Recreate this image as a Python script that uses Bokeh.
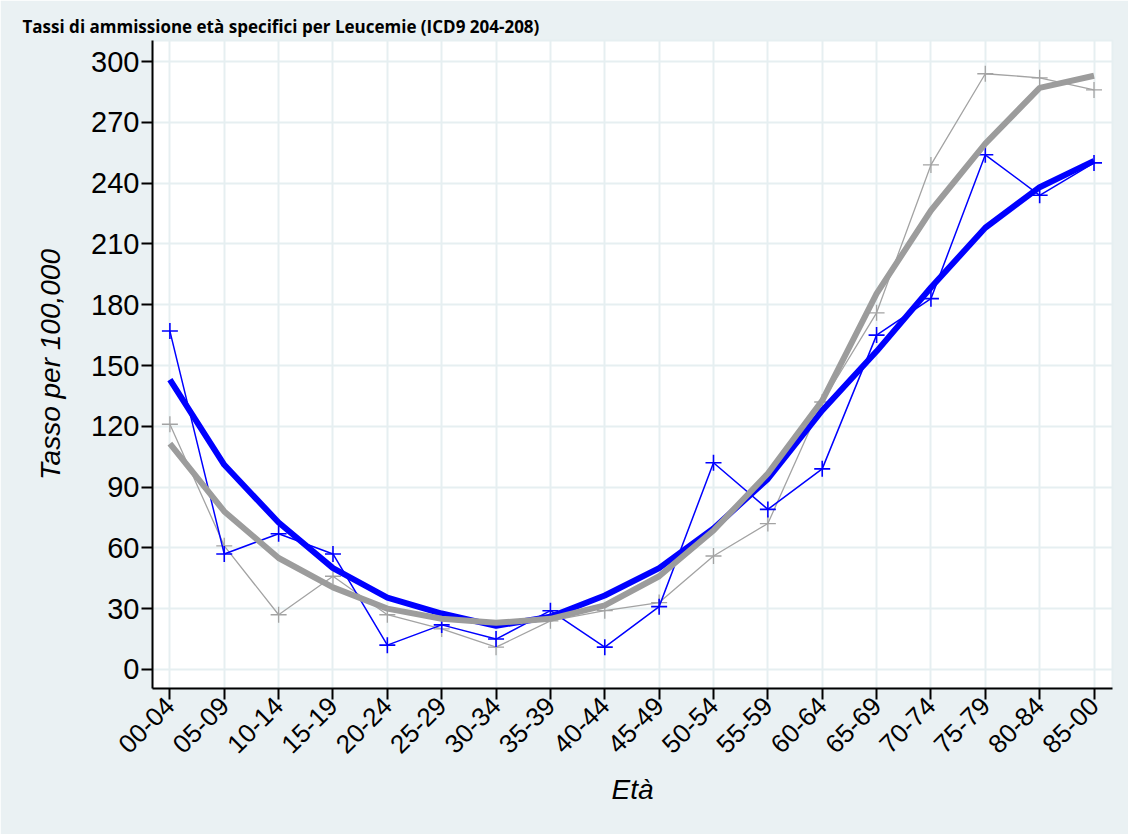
from bokeh.plotting import figure
from bokeh.models import FixedTicker, Range1d, ColumnDataSource
from bokeh.embed import file_html
from bokeh.resources import INLINE

# ---- data ----
age_labels = ["00-04", "05-09", "10-14", "15-19", "20-24", "25-29", "30-34", "35-39",
              "40-44", "45-49", "50-54", "55-59", "60-64", "65-69", "70-74", "75-79",
              "80-84", "85-00"]
blue_raw = [167, 57, 67, 57, 12, 22, 15, 29, 11, 31, 102, 79, 99, 165, 183, 254, 234, 250]
gray_raw = [121, 61, 27, 46, 27, 20, 11, 24, 29, 33, 56, 72, 132, 176, 249, 294, 292, 286]
blue_smooth = [143, 101, 72.5, 50, 35.5, 27.6, 21.5, 26, 36.5, 50, 69.6, 94, 127.8, 157,
               188.5, 218, 238, 251]
gray_smooth = [111.5, 78, 55, 40.5, 30, 25, 23, 25, 31.6, 46, 68.6, 96.7, 132.7, 185.5,
               226.5, 259.5, 287, 293]
y_ticks = [0, 30, 60, 90, 120, 150, 180, 210, 240, 270, 300]
title_text = "Tassi di ammissione età specifici per Leucemie (ICD9 204-208)"

xs = list(range(len(age_labels)))
src = ColumnDataSource(dict(x=xs, blue_raw=blue_raw, gray_raw=gray_raw,
                            blue_smooth=blue_smooth, gray_smooth=gray_smooth))

BG = "#EAF1F3"
GRID = "#E6EFF1"

p = figure(width=1128, height=834, output_backend="svg", toolbar_location=None,
           x_range=Range1d(-0.32, 17.34), y_range=Range1d(-9.4, 310.4),
           min_border_left=152, min_border_right=16, min_border_top=40,
           min_border_bottom=146, frame_width=960, frame_height=648,
           title=title_text)

p.background_fill_color = "white"
p.border_fill_color = BG
p.outline_line_color = GRID
p.outline_line_width = 2

p.title.text_font = "Open Sans"
p.title.text_font_style = "bold"
p.title.text_font_size = "17px"
p.title.align = "left"
p.title.offset = -130
p.title.standoff = 6
p.title.text_color = "black"

# grid
p.xgrid.ticker = FixedTicker(ticks=xs)
p.ygrid.ticker = FixedTicker(ticks=y_ticks)
p.xgrid.grid_line_color = GRID
p.ygrid.grid_line_color = GRID
p.xgrid.grid_line_width = 2
p.ygrid.grid_line_width = 2

# axes
for ax in (p.xaxis[0], p.yaxis[0]):
    ax.axis_line_color = "black"
    ax.axis_line_width = 2
    ax.major_tick_line_color = "black"
    ax.major_tick_line_width = 2
    ax.major_tick_in = 0
    ax.major_tick_out = 11
    ax.minor_tick_line_color = None
    ax.major_label_text_font = "Liberation Sans"
    ax.major_label_text_color = "black"
    ax.axis_label_text_font = "Liberation Sans"
    ax.axis_label_text_font_size = "28px"
    ax.axis_label_text_font_style = "italic"
    ax.axis_label_text_color = "black"

p.xaxis.ticker = FixedTicker(ticks=xs)
p.xaxis.major_label_overrides = {i: lab for i, lab in enumerate(age_labels)}
p.xaxis.major_label_orientation = 0.785398
p.xaxis.major_label_text_font_size = "26px"
p.xaxis.major_label_standoff = 2
p.xaxis.axis_label = "Età"
p.xaxis.axis_label_standoff = 10

p.yaxis.ticker = FixedTicker(ticks=y_ticks)
p.yaxis.major_label_text_font_size = "29px"
p.yaxis.major_label_standoff = 2
p.yaxis.axis_label = "Tasso per 100,000"
p.yaxis.axis_label_standoff = 22

# raw series
p.line("x", "gray_raw", source=src, line_color="#A3A3A3", line_width=1.3)
p.scatter("x", "gray_raw", source=src, marker="cross", size=16, line_color="#A3A3A3",
          line_width=1.3)
p.line("x", "blue_raw", source=src, line_color="#0000FF", line_width=1.5)
p.scatter("x", "blue_raw", source=src, marker="cross", size=16, line_color="#0000FF",
          line_width=1.6)
# smoothed series
p.line("x", "blue_smooth", source=src, line_color="#0000FF", line_width=6)
p.line("x", "gray_smooth", source=src, line_color="#9C9C9C", line_width=6)

open("out.html", "w").write(file_html(p, INLINE))
